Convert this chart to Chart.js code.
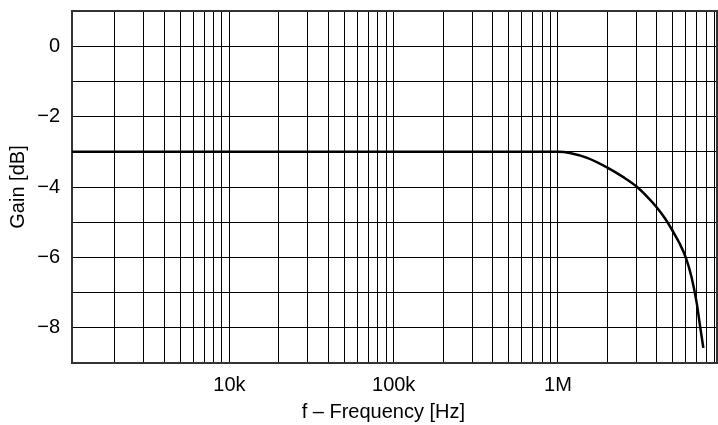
<!DOCTYPE html>
<html>
<head>
<meta charset="utf-8">
<script src="https://cdn.jsdelivr.net/npm/chart.js@4/dist/chart.umd.min.js"></script>
<style>
  html, body { margin: 0; padding: 0; background: #fff; }
  #wrap { width: 718px; height: 425px; }
</style>
</head>
<body>
<div id="wrap"><canvas id="gainChart"></canvas></div>
<script>
// Gain vs frequency
const freqHz = [1100, 1.0e6, 1.2e6, 1.52e6, 2.0e6, 2.5e6, 3.0e6, 3.5e6, 4.0e6, 4.5e6,
                5.0e6, 5.5e6, 6.0e6, 6.5e6, 7.0e6, 7.36e6, 7.68e6];
const gainDb = [-3.0, -3.0, -3.04, -3.18, -3.45, -3.72, -3.98, -4.28, -4.58, -4.9,
                -5.25, -5.6, -6.0, -6.55, -7.3, -8.0, -8.57];

// axis layout
const xMin = 1100;
const xMax = 9.3e6;
const decades = [1e3, 1e4, 1e5, 1e6];
const multipliers = [1, 2, 3, 4, 5, 6, 7, 8, 9];
const xTickValues = [1e4, 1e5, 1e6];
const xTickLabels = ['10k', '100k', '1M'];
const yMin = -9;
const yMax = 1;

const font = { family: "'Liberation Sans', Arial, sans-serif", size: 20 };
const ink = '#000';

function gridTicks() {
    const out = [];
    decades.forEach(d => {
        multipliers.forEach(m => {
            const v = d * m;
            if (v > xMin && v < xMax) out.push({ value: v });
        });
    });
    return out;
}

new Chart(document.getElementById('gainChart'), {
    type: 'line',
    data: {
        datasets: [{
            data: freqHz.map((f, i) => ({ x: f, y: gainDb[i] })),
            borderColor: ink,
            borderWidth: 2.5,
            pointRadius: 0,
            fill: false,
            cubicInterpolationMode: 'monotone'
        }]
    },
    options: {
        responsive: true,
        maintainAspectRatio: false,
        animation: false,
        layout: { padding: { left: 0, right: 1, top: 11, bottom: 0 } },
        plugins: {
            legend: { display: false },
            tooltip: { enabled: false }
        },
        scales: {
            x: {
                type: 'logarithmic',
                min: xMin,
                max: xMax,
                afterBuildTicks: function(scale) {
                    scale.ticks = gridTicks();
                },
                afterFit: function(scale) {
                    scale.height = 62;
                    scale.paddingLeft = 0;
                    scale.paddingRight = 0;
                },
                ticks: {
                    autoSkip: false,
                    maxRotation: 0,
                    padding: 10,
                    color: ink,
                    font: font,
                    callback: function(value) {
                        const i = xTickValues.findIndex(v => Math.abs(v - value) / v < 1e-6);
                        return i >= 0 ? xTickLabels[i] : '';
                    }
                },
                grid: { color: ink, lineWidth: 1, drawTicks: false },
                border: { color: '#333', width: 2 },
                title: {
                    display: true,
                    text: 'f \u2013 Frequency [Hz]    ',
                    color: ink,
                    font: font,
                    padding: { top: 0, bottom: 1 }
                }
            },
            y: {
                min: yMin,
                max: yMax,
                afterFit: function(scale) {
                    scale.width = 72;
                    scale.paddingTop = 0;
                    scale.paddingBottom = 0;
                },
                ticks: {
                    stepSize: 1,
                    padding: 12,
                    color: ink,
                    font: font,
                    callback: function(value) {
                        if (value % 2 !== 0) return '';
                        return value < 0 ? '\u2212' + Math.abs(value) : String(value);
                    }
                },
                grid: { color: ink, lineWidth: 1, drawTicks: false },
                border: { color: '#333', width: 2 },
                title: {
                    display: true,
                    text: 'Gain [dB]',
                    color: ink,
                    font: font,
                    padding: { top: 6, bottom: 0 }
                }
            }
        }
    },
    plugins: [{
        // closing frame on the top and right edges
        id: 'frame',
        afterDraw(chart) {
            const { ctx, chartArea: a } = chart;
            ctx.save();
            ctx.strokeStyle = '#333';
            ctx.lineWidth = 2;
            ctx.beginPath();
            ctx.moveTo(a.left, a.top);
            ctx.lineTo(a.right, a.top);
            ctx.lineTo(a.right, a.bottom);
            ctx.stroke();
            ctx.restore();
        }
    }]
});
</script>
</body>
</html>
